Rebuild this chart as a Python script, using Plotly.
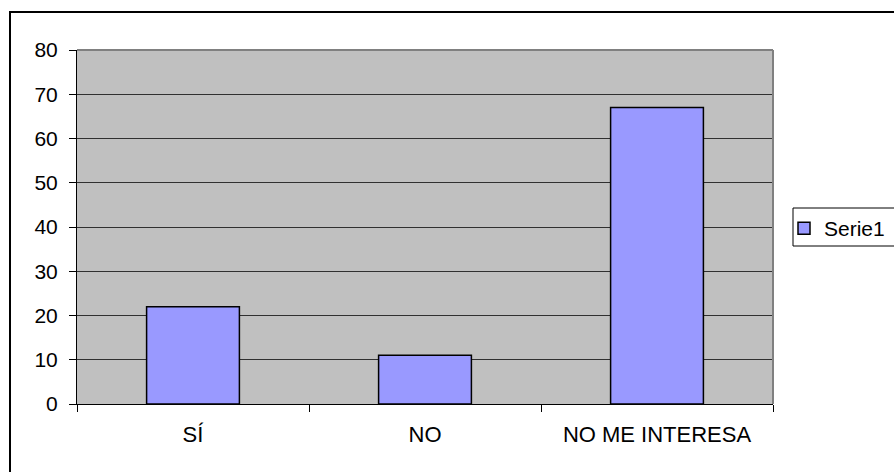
import plotly.graph_objects as go

categories = ["SÍ", "NO", "NO ME INTERESA"]
serie1 = [22, 11, 67]
y_ticks = [0, 10, 20, 30, 40, 50, 60, 70, 80]

W, H = 894, 472
L, R, T, B = 77, 121, 50, 68
pw, ph = W - L - R, H - T - B

def px_x(x):
    return (x - L) / pw

def px_y(y):
    return (H - B - y) / ph

family = "Liberation Sans, Arial, sans-serif"
font = dict(family=family, size=21, color="black")

fig = go.Figure()
fig.add_trace(go.Bar(
    x=categories, y=serie1, name="Serie1", width=0.4,
    marker=dict(color="#9999FF", line=dict(color="black", width=1.5)),
))

fig.update_layout(
    width=W, height=H,
    margin=dict(l=L, r=R, t=T, b=B, pad=0, autoexpand=False),
    paper_bgcolor="white", plot_bgcolor="#C0C0C0",
    font=font,
    showlegend=True,
    legend=dict(
        x=px_x(784), y=px_y(208), xanchor="left", yanchor="top",
        borderwidth=0, bgcolor="rgba(0,0,0,0)",
        font=dict(family=family, size=21, color="black"),
        itemwidth=30,
    ),
    xaxis=dict(
        type="category", tickson="boundaries", ticks="outside", ticklen=7,
        tickcolor="black", showline=True, linecolor="black", linewidth=1,
        showgrid=False, ticklabelstandoff=11,
        tickfont=dict(family=family, size=22, color="black"),
    ),
    yaxis=dict(
        range=[0, 80], tickvals=y_ticks, ticks="outside", ticklen=7,
        tickcolor="black", showline=True, linecolor="black", linewidth=1,
        showgrid=True, gridcolor="#303030", gridwidth=1, zeroline=False,
        ticklabelstandoff=7, tickfont=font,
    ),
    shapes=[
        # plot area frame (top and right edges)
        dict(type="line", xref="paper", yref="paper", x0=0, x1=1, y0=1, y1=1,
             line=dict(color="#808080", width=2)),
        dict(type="line", xref="paper", yref="paper", x0=1, x1=1, y0=0, y1=1,
             line=dict(color="#808080", width=2)),
        # legend box
        dict(type="rect", xref="paper", yref="paper",
             x0=px_x(793), x1=px_x(W + 20), y0=px_y(246), y1=px_y(208),
             line=dict(color="black", width=1), fillcolor="white", layer="below"),
        # chart border
        dict(type="rect", xref="paper", yref="paper",
             x0=px_x(10), x1=px_x(W + 20), y0=px_y(H + 20), y1=px_y(12),
             line=dict(color="black", width=2), layer="below"),
    ],
)

fig.write_html("out.html")
